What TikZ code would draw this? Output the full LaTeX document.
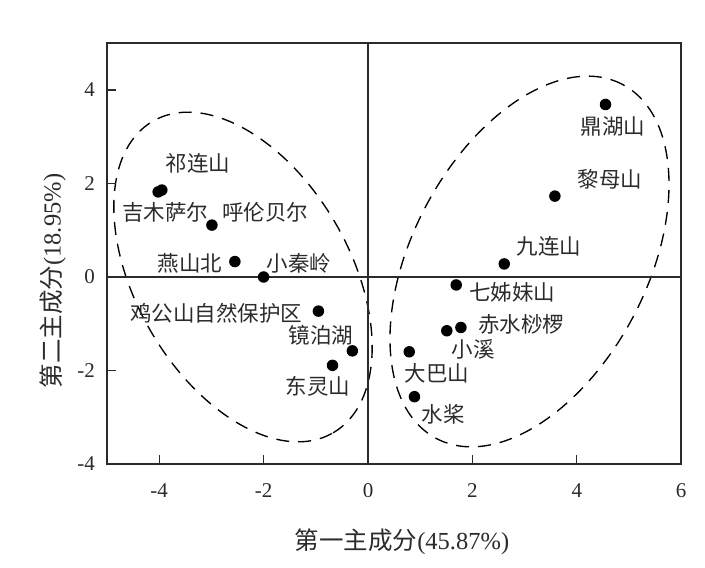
\documentclass[tikz,border=0pt]{standalone}
\usepackage{fontspec}
\setmainfont{Liberation Serif}
\newfontfamily\cjk{Noto Sans CJK SC}
\definecolor{ink}{HTML}{2B2B2B}
\begin{document}
\begin{tikzpicture}[x=1pt,y=1pt,
  dot/.style={circle,fill=black,inner sep=0pt,minimum size=11.5pt},
  lbl/.style={inner sep=0pt,text=ink,font=\cjk\fontsize{21.5}{22}\selectfont},
  ticklbl/.style={inner sep=0pt,text=ink,font=\fontsize{21}{21}\selectfont},
  axtitle/.style={inner sep=0pt,text=ink,font=\fontsize{24.5}{25}\selectfont},
  frame/.style={draw=ink,line width=1.9pt},
  zeroline/.style={draw=ink,line width=1.1pt},
  tickmark/.style={draw=ink,line width=1.2pt},
  group/.style={draw=black,line width=1.35pt,dash pattern=on 13pt off 9pt}]
\useasboundingbox (0,0) rectangle (705,568);
% groups (ellipses)
\draw[group,rotate around={-60:(243,291)}] (243,291) ellipse [x radius=180, y radius=107];
\draw[group,rotate around={62.3:(529.5,306.5)}] (529.5,306.5) ellipse [x radius=200, y radius=117.5];
\begin{scope}[shift={(368,291)},x=52.2pt,y=46.75pt]
  % frame and axes
  \coordinate (bl) at (-5,-4);
  \coordinate (tr) at (6,5);
  \coordinate (xl) at (-5,0);
  \coordinate (xr) at (6,0);
  \coordinate (yb) at (0,-4);
  \coordinate (yt) at (0,5);
  \draw[zeroline] (xl) -- (xr);
  \draw[zeroline] (yb) -- (yt);
  \foreach \v in {-4,-2,0,2,4}{
    \coordinate (yt\v) at (-5,\v);
    \draw[tickmark] (yt\v) -- ++(9pt,0);
    \node[ticklbl,anchor=east] (ylab\v) at ([xshift=-12pt]yt\v) {\v};
  }
  \foreach \v in {-4,-2,0,2,4,6}{
    \coordinate (xt\v) at (\v,-4);
    \draw[tickmark] (xt\v) -- ++(0,9pt);
    \node[ticklbl,anchor=center] (xlab\v) at ([yshift=-26.7pt]xt\v) {\v};
  }
  \draw[frame] (bl) rectangle (tr);
  % points
  \node[dot] (jm1) at (-4.02,1.82) {};
  \node[dot] (jm2) at (-3.95,1.86) {};
  \node[dot] (hl) at (-2.99,1.11) {};
  \node[dot] (ys) at (-2.55,0.33) {};
  \node[dot] (xq) at (-2.0,0.0) {};
  \node[dot] (jg) at (-0.95,-0.73) {};
  \node[dot] (jb) at (-0.30,-1.58) {};
  \node[dot] (dl) at (-0.68,-1.89) {};
  \node[dot] (dh) at (4.55,3.69) {};
  \node[dot] (lm) at (3.58,1.73) {};
  \node[dot] (jl) at (2.61,0.28) {};
  \node[dot] (qz) at (1.69,-0.17) {};
  \node[dot] (cs) at (1.78,-1.08) {};
  \node[dot] (xx) at (1.51,-1.15) {};
  \node[dot] (db) at (0.79,-1.60) {};
  \node[dot] (sj) at (0.89,-2.56) {};
\end{scope}
% point labels (pixel positions)
\node[lbl] (Lql) at (198,405) {祁连山};
\node[lbl] (Ljm) at (165,356) {吉木萨尔};
\node[lbl] (Lhl) at (265,356) {呼伦贝尔};
\node[lbl] (Lys) at (190,305) {燕山北};
\node[lbl] (Lxq) at (299,305) {小秦岭};
\node[lbl] (Ljg) at (216,255) {鸡公山自然保护区};
\node[lbl] (Ljb) at (321,233) {镜泊湖};
\node[lbl] (Ldl) at (318,182) {东灵山};
\node[lbl] (Ldh) at (613,441) {鼎湖山};
\node[lbl] (Llm) at (610,388.5) {黎母山};
\node[lbl] (Ljl) at (549,321.5) {九连山};
\node[lbl] (Lqz) at (512,276) {七姊妹山};
\node[lbl] (Lcs) at (521,244) {赤水桫椤};
\node[lbl] (Lxx) at (473,219) {小溪};
\node[lbl] (Ldb) at (437,195) {大巴山};
\node[lbl] (Lsj) at (443,154) {水桨};
% axis titles
\node[axtitle] (xtitle) at (402,26.5) {{\cjk 第一主成分}(45.87\%)};
\node[axtitle,rotate=90] (ytitle) at (53,287) {{\cjk 第二主成分}(18.95\%)};
\end{tikzpicture}
\end{document}
